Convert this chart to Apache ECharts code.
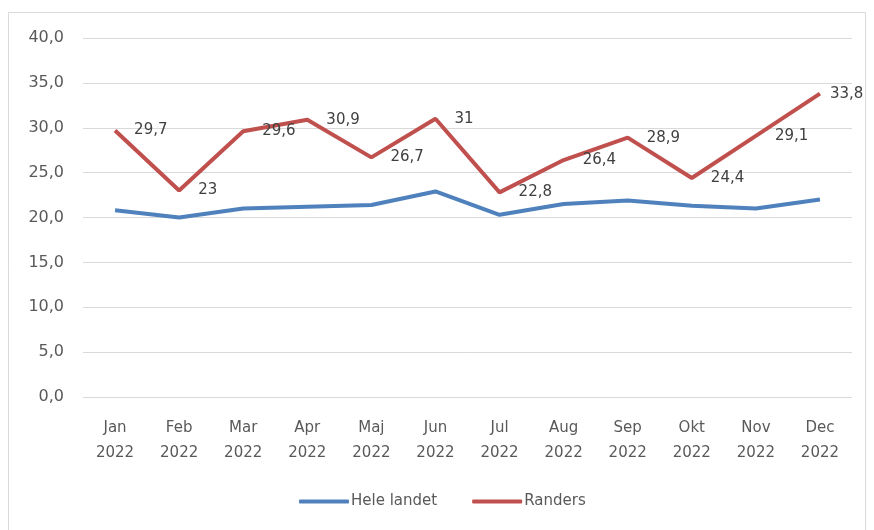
<!DOCTYPE html>
<html><head><meta charset="utf-8">
<script src="https://cdn.jsdelivr.net/npm/echarts@6/dist/echarts.min.js"></script>
<style>html,body{margin:0;padding:0;background:#fff}#c{width:874px;height:530px}</style>
</head><body><div id="c"></div>
<script>
const months = ['Jan','Feb','Mar','Apr','Maj','Jun','Jul','Aug','Sep','Okt','Nov','Dec'];
const year = '2022';
const heleLandet = [20.8, 20.0, 21.0, 21.2, 21.4, 22.9, 20.3, 21.5, 21.9, 21.3, 21.0, 22.0];
const randers = [29.7, 23, 29.6, 30.9, 26.7, 31, 22.8, 26.4, 28.9, 24.4, 29.1, 33.8];
const categories = months.map(m => m + '\n' + year);
const font = '"DejaVu Sans", "Noto Sans", sans-serif';
const chart = echarts.init(document.getElementById('c'));
const randersData = randers.map((v, i) => i === randers.length - 1 ? {value: v, label: {distance: 10}} : v);
chart.setOption({
  animation: false,
  textStyle: {fontFamily: font},
  graphic: [{type:'rect', shape:{x:8.5, y:12.5, width:857, height:540}, style:{fill:'none', stroke:'#d9d9d9', lineWidth:1}, silent:true}],
  grid: {left: 83, right: 22, top: 38, bottom: 133},
  legend: {
    bottom: 16, left: 294, itemWidth: 50, itemHeight: 4, itemGap: 35, icon: 'roundRect',
    textStyle: {color: '#595959', fontSize: 15, fontFamily: font, padding:[0,0,0,-3]},
    data: [{name:'Hele landet', itemStyle:{color:'#4F81BD'}}, {name:'Randers', itemStyle:{color:'#C0504D'}}]
  },
  xAxis: {
    type: 'category', data: categories, boundaryGap: true,
    axisLine: {show: false}, axisTick: {show: false},
    axisLabel: {color: '#595959', fontSize: 15, lineHeight: 25, margin: 19, interval: 0}
  },
  yAxis: {
    type: 'value', min: 0, max: 40, interval: 5,
    axisLine: {show: false}, axisTick: {show: false},
    splitLine: {lineStyle: {color: '#d9d9d9'}},
    axisLabel: {color: '#595959', fontSize: 16, margin: 19, formatter: v => v.toFixed(1).replace('.', ',')}
  },
  series: [
    {name: 'Hele landet', type: 'line', data: heleLandet, showSymbol: false, symbol: 'none',
     lineStyle: {color: '#4F81BD', width: 4}, itemStyle: {color: '#4F81BD'}},
    {name: 'Randers', type: 'line', data: randersData, showSymbol: true, symbol: 'circle', symbolSize: 0.1,
     lineStyle: {color: '#C0504D', width: 4}, itemStyle: {color: '#C0504D'},
     label: {show: true, position: 'right', distance: 19, color: '#404040', fontSize: 15,
       formatter: p => String(p.value).replace('.', ',')}}
  ]
});
</script></body></html>
